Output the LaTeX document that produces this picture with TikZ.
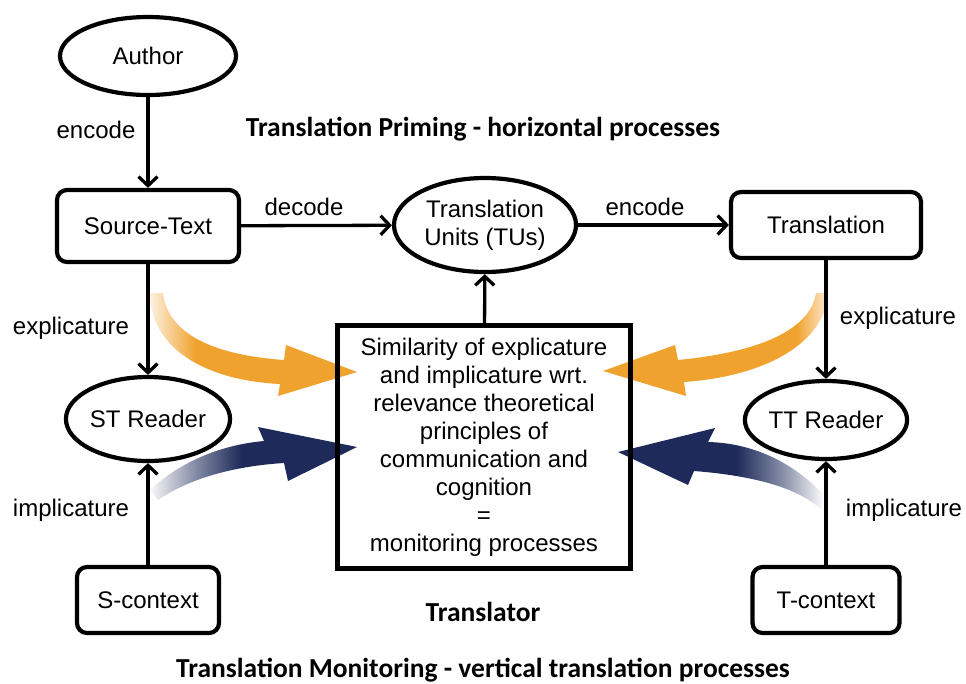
\documentclass[tikz,border=0pt]{standalone}
\usepackage{fontspec}
\setmainfont{Liberation Sans}
\newfontfamily\titlefont{Carlito}
\usetikzlibrary{arrows.meta,shapes.geometric}
\definecolor{orgc}{HTML}{F0A22E}
\definecolor{navc}{HTML}{1E2B5A}
\pgfdeclarehorizontalshading{orgL}{100bp}{color(0bp)=(orgc!15); color(25bp)=(orgc!15); color(36bp)=(orgc); color(100bp)=(orgc)}
\pgfdeclarehorizontalshading{orgR}{100bp}{color(0bp)=(orgc); color(68bp)=(orgc); color(75bp)=(orgc!20); color(100bp)=(orgc!20)}
\pgfdeclarehorizontalshading{navL}{100bp}{color(0bp)=(navc!3); color(25bp)=(navc!3); color(36bp)=(navc!55); color(47bp)=(navc); color(100bp)=(navc)}
\pgfdeclarehorizontalshading{navR}{100bp}{color(0bp)=(navc); color(54bp)=(navc); color(65bp)=(navc!55); color(75bp)=(navc!3); color(100bp)=(navc!3)}
\begin{document}
\begin{tikzpicture}[x=1pt,y=-1pt,
  every node/.style={font=\fontsize{24}{28}\selectfont, text=black},
  ell/.style={draw, line width=4.2pt, ellipse, inner sep=0pt},
  rbox/.style={draw, line width=4.2pt, rounded corners=10pt, inner sep=0pt},
  conn/.style={line width=3.3pt, -{Straight Barb[length=9pt,width=19pt]}},
  lbl/.style={inner sep=0pt},
  ttl/.style={font=\titlefont\bfseries\fontsize{27.5}{32}\selectfont, inner sep=0pt}]
\useasboundingbox (0,0) rectangle (966,683);

% curved fat arrows
\shade[shading=orgL] (150,293) .. controls (150,345) and (200,380) .. (280,384)
  -- (278,396) -- (357,372) -- (286,345) -- (284,360)
  .. controls (215,355) and (168,335) .. (163,293) -- cycle;
\shade[shading=navL] (150,490) .. controls (180,462) and (220,445) .. (264,441)
  -- (258,427) -- (357,447) -- (288,481) -- (284,463)
  .. controls (235,466) and (190,478) .. (158,500) -- cycle;
\shade[shading=orgR] (828,293) .. controls (826,340) and (770,376) .. (684,382)
  -- (686,396) -- (603,371) -- (675,345) -- (678,360)
  .. controls (760,352) and (810,330) .. (816,293) -- cycle;
\shade[shading=navR] (822,493) .. controls (790,460) and (750,443) .. (708,442)
  -- (715,428) -- (618,452) -- (688,485) -- (694,471)
  .. controls (745,475) and (795,485) .. (822,510) -- cycle;

% nodes
\node[ell, minimum width=176pt, minimum height=78pt] (author) at (148,56) {Author};
\node[rbox, minimum width=182pt, minimum height=72pt] (st) at (148,226) {Source-Text};
\node[ell, minimum width=182pt, minimum height=94pt, align=center] (tu) at (485,225) {Translation\\Units (TUs)};
\node[rbox, minimum width=190pt, minimum height=66pt] (tr) at (826,225) {Translation};
\node[ell, minimum width=148pt, minimum height=84pt] (str) at (148,419) {ST Reader};
\node[ell, minimum width=154pt, minimum height=78pt] (ttr) at (826,420) {TT Reader};
\node[rbox, minimum width=142pt, minimum height=66pt] (sc) at (148,600) {S-context};
\node[rbox, minimum width=147pt, minimum height=66pt] (tc) at (826,600) {T-context};
\node[draw, line width=4.8pt, minimum width=293pt, minimum height=243pt, align=center, inner sep=0pt] (box) at (484,447)
  {Similarity of explicature\\and implicature wrt.\\relevance theoretical\\principles of\\communication and\\cognition\\=\\monitoring processes};

% connectors
\draw[conn] (author) -- (st);
\draw[conn] (st) -- (tu);
\draw[conn] (tu) -- (tr);
\draw[conn] (st) -- (str);
\draw[conn] (sc) -- (str);
\draw[conn] (tr) -- (ttr);
\draw[conn] (tc) -- (ttr);
\draw[conn] (box) -- (tu);

% labels
\node[lbl] (l1) at (96,130) {encode};
\node[lbl] (l2) at (304,207) {decode};
\node[lbl] (l3) at (645,207) {encode};
\node[lbl] (l4) at (71,328) {explicature};
\node[lbl] (l5) at (898,318) {explicature};
\node[lbl] (l6) at (71,510) {implicature};
\node[lbl] (l7) at (904,510) {implicature};
\node[ttl] (t1) at (483,129) {Translation Priming - horizontal processes};
\node[ttl] (t2) at (483,612) {Translator};
\node[ttl] (t3) at (483,670) {Translation Monitoring - vertical translation processes};
\end{tikzpicture}
\end{document}
